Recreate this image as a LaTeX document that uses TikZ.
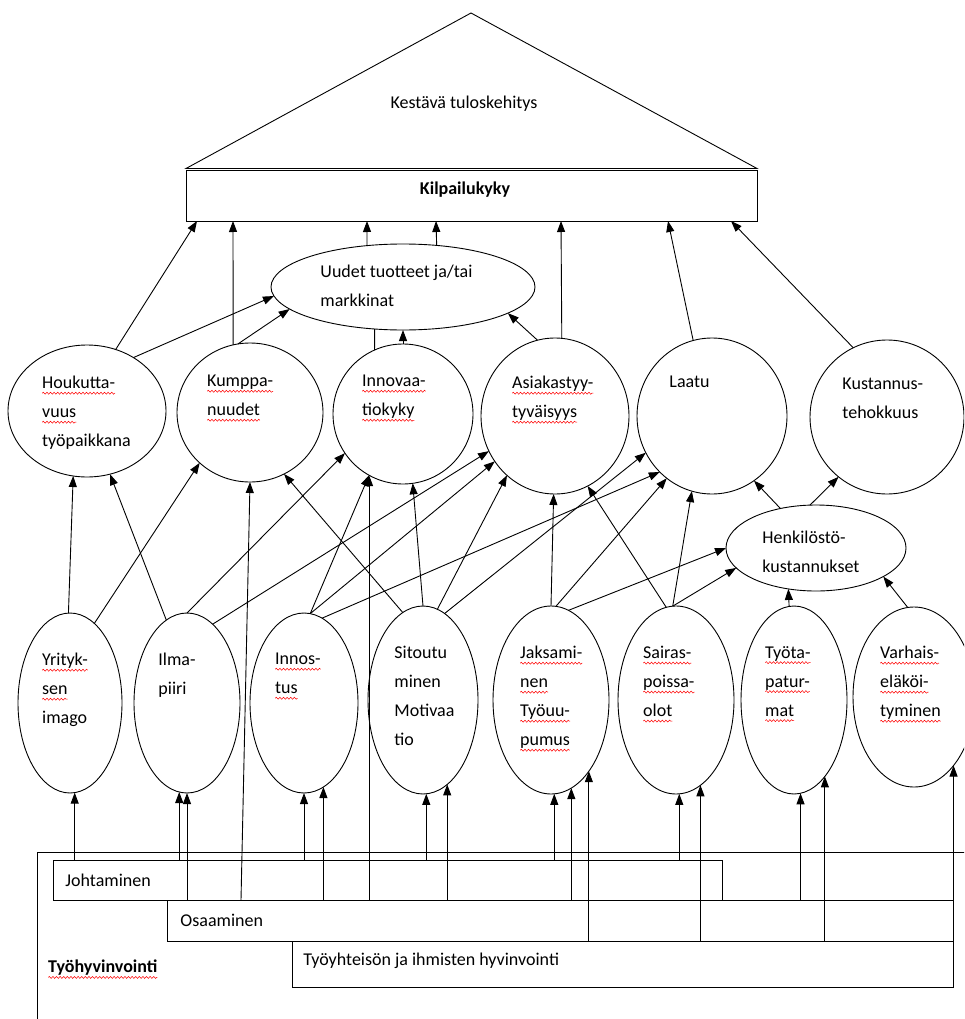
\documentclass[tikz,border=0pt]{standalone}
\usepackage{fontspec}
\setmainfont{Carlito}
\usetikzlibrary{arrows.meta,shapes.geometric,decorations.pathmorphing}
% red wavy underline, as a spell checker marks a word
\newlength\spellwd
\newcommand\spellmark[1]{\settowidth\spellwd{#1}\rlap{\tikz[overlay,baseline=0pt,x=1pt,y=1pt]
  \draw[red,line width=0.5pt,decorate,decoration={snake,amplitude=1pt,segment length=3.6pt}]
  (0pt,-4.5pt) -- (\spellwd,-4.5pt);}#1}
\begin{document}
\begin{tikzpicture}[x=1pt,y=-1pt,line width=0.9pt,
  ell/.style={draw,ellipse,inner sep=0pt,outer sep=0pt,fill=white},
  box/.style={draw,rectangle,inner sep=0pt,outer sep=0pt},
  arr/.style={-{Triangle[length=11pt,width=8pt]}},
  lbl/.style={anchor=north west,inner sep=0pt,align=left,font=\fontsize{18}{29}\selectfont},
  word/.style={anchor=west,inner sep=0pt,font=\fontsize{18}{22}\selectfont}]
\useasboundingbox (0,0) rectangle (964,1019);
\clip (0,0) rectangle (964,1019);

% roof and competitiveness bar
\draw (186,168.5) -- (471,13) -- (757,168.5) -- cycle;
\node[box,minimum width=571,minimum height=51] (kil) at (471.5,195.5) {};
\node[font=\fontsize{18}{22}\selectfont] (kes) at (464,104) {Kestävä tuloskehitys};
\node[font=\bfseries\fontsize{18}{22}\selectfont] (tkil) at (465,190) {Kilpailukyky};

% middle level
\node[ell,minimum width=264,minimum height=86] (uud) at (403,287) {};
\node[ell,minimum width=158,minimum height=132] (hou) at (87,411) {};
\node[ell,minimum width=146,minimum height=139] (kum) at (250,412.5) {};
\node[ell,minimum width=140,minimum height=140] (inn) at (403,414) {};
\node[ell,minimum width=148,minimum height=156] (asi) at (555,416) {};
\node[ell,minimum width=150,minimum height=156] (laa) at (712,416) {};
\node[ell,minimum width=154,minimum height=154] (kus) at (887,417) {};
\node[ell,minimum width=180,minimum height=86] (hen) at (816,548) {};

% lower level
\node[ell,minimum width=104,minimum height=180] (yri) at (70,703) {};
\node[ell,minimum width=106,minimum height=180] (ilm) at (187,703) {};
\node[ell,minimum width=108,minimum height=180] (ist) at (304,703) {};
\node[ell,minimum width=110,minimum height=188] (sit) at (423,700) {};
\node[ell,minimum width=116,minimum height=188] (jak) at (551,700) {};
\node[ell,minimum width=116,minimum height=188] (sai) at (676,700) {};
\node[ell,minimum width=106,minimum height=188] (tyo) at (794,700) {};
\node[ell,minimum width=122,minimum height=180] (var) at (914,697) {};

% texts
\node[lbl] (tuud) at (320,265) {Uudet tuotteet ja/tai\\markkinat};
\node[lbl] (thou) at (42,376) {\spellmark{Houkutta-}\\\spellmark{vuus}\\työpaikkana};
\node[lbl] (tkum) at (207,375) {\spellmark{Kumppa-}\\\spellmark{nuudet}};
\node[lbl] (tinn) at (362,375) {\spellmark{Innovaa-}\\\spellmark{tiokyky}};
\node[lbl] (tasi) at (512,376) {\spellmark{Asiakastyy-}\\\spellmark{tyväisyys}};
\node[lbl] (tlaa) at (669,375) {Laatu};
\node[lbl] (tkus) at (842,377) {Kustannus-\\tehokkuus};
\node[lbl] (then) at (762,531) {Henkilöstö-\\kustannukset};
\node[lbl] (tyri) at (42,653) {\spellmark{Yrityk-}\\\spellmark{sen}\\imago};
\node[lbl] (tilm) at (158,653) {Ilma-\\piiri};
\node[lbl] (tist) at (275,653) {\spellmark{Innos-}\\\spellmark{tus}};
\node[lbl] (tsit) at (394,646) {Sitoutu\\minen\\Motivaa\\tio};
\node[lbl] (tjak) at (520,646) {\spellmark{Jaksami-}\\\spellmark{nen}\\\spellmark{Työuu-}\\\spellmark{pumus}};
\node[lbl] (tsai) at (643,646) {\spellmark{Sairas-}\\\spellmark{poissa-}\\\spellmark{olot}};
\node[lbl] (ttyo) at (765,646) {\spellmark{Työta-}\\\spellmark{patur-}\\\spellmark{mat}};
\node[lbl] (tvar) at (880,646) {\spellmark{Varhais-}\\\spellmark{eläköi-}\\\spellmark{tyminen}};

% foundation boxes
\node[box,anchor=north west,minimum width=1000,minimum height=220] (thv) at (37,852) {};
\node[box,anchor=north west,minimum width=669,minimum height=40] (jo) at (53,860) {};
\node[box,anchor=north west,minimum width=786,minimum height=41] (os) at (167,900) {};
\node[box,anchor=north west,minimum width=661,minimum height=46] (ty) at (292,941) {};
\node[word] (tjo) at (65,880) {Johtaminen};
\node[word] (tos) at (180,920) {Osaaminen};
\node[word] (tty) at (303,961) {Työyhteisön ja ihmisten hyvinvointi};
\node[word,font=\bfseries\fontsize{18}{22}\selectfont] (tthv) at (48,968) {\spellmark{Työhyvinvointi}};

% foundations to lower level
\draw[arr] (jo.north -| yri.-87.4) -- (yri.-87.4);
\draw[arr] (jo.north -| ilm.-95.8) -- (ilm.-95.8);
\draw[arr] (os.north -| ilm.-90) -- (ilm.-90);
\draw[arr] ([xshift=74pt]os.north west) -- (kum.-90);
\draw[arr] (jo.north -| ist.-90) -- (ist.-90);
\draw[arr] (os.north -| ist.-77.3) -- (ist.-77.3);
\draw[arr] (os.north -| inn.-119) -- (inn.-119);
\draw[arr] (jo.north -| sit.-88.2) -- (sit.-88.2);
\draw[arr] (os.north -| sit.-74.9) -- (sit.-74.9);
\draw[arr] (jo.north -| jak.-88.8) -- (jak.-88.8);
\draw[arr] (os.north -| jak.-77.9) -- (jak.-77.9);
\draw[arr] (ty.north -| jak.-62.9) -- (jak.-62.9);
\draw[arr] (jo.north -| sai.-88.8) -- (sai.-88.8);
\draw[arr] (ty.north -| sai.-74.3) -- (sai.-74.3);
\draw[arr] (os.north -| tyo.-86.9) -- (tyo.-86.9);
\draw[arr] (ty.north -| tyo.-68.8) -- (tyo.-68.8);
\draw[arr] (ty.north -| var.-60.6) -- (var.-60.6);

% lower level to middle level
\draw[arr] (yri.91.3) -- (hou.-102.2);
\draw[arr] (yri.73.2) -- (kum.-135.3);
\draw[arr] (ilm.104.4) -- (hou.-70);
\draw[arr] (ilm.90) -- (inn.-146.1);
\draw[arr] (ilm.72.6) -- (asi.-152.8);
\draw[arr] (ist.86.2) -- (inn.-119.2);
\draw[arr] (ist.86.2) -- (asi.-143.7);
\draw[arr] (ist.78.6) -- (laa.-133.6);
\draw[arr] (sit.103.6) -- (kum.-61.9);
\draw[arr] (sit.90.6) -- (inn.-82.3);
\draw[arr] (sit.81.6) -- (asi.-129.2);
\draw[arr] (sit.76.7) -- (laa.-151.9);
\draw[arr] (jak.90.6) -- (asi.-91.4);
\draw[arr] (jak.87) -- (laa.-126.2);
\draw[arr] (jak.79.2) -- (hen.180);
\draw[arr] (sai.96.7) -- (asi.-65.1);
\draw[arr] (sai.92) -- (laa.-105.4);
\draw[arr] (sai.92) -- (hen.-166);
\draw[arr] (tyo.93.7) -- (hen.-124.4);
\draw[arr] (var.94.5) -- (hen.-23.9);
\draw[arr] (hen.132.4) -- (laa.-57.8);
\draw[arr] (hen.98) -- (kus.-129.2);

% middle level to the top
\draw[arr] (hou.65.6) -- ([xshift=11pt]kil.south west);
\draw[arr] (hou.49.4) -- (uud.-176.7);
\draw[arr] (kum.104.9) -- ([xshift=47pt]kil.south west);
\draw[arr] (kum.100.7) -- (uud.-169.2);
\draw (inn.114.5) -- (uud.-124.6);
\draw[arr] (inn.north) -- (uud.south);
\draw[arr] (uud.131) -- ([xshift=181pt]kil.south west);
\draw[arr] (uud.51.6) -- ([xshift=250pt]kil.south west);
\draw[arr] (asi.103.4) -- (uud.-14);
\draw[arr] (asi.85.6) -- ([xshift=375pt]kil.south west);
\draw[arr] (laa.104.9) -- ([xshift=482pt]kil.south west);
\draw[arr] (kus.116.2) -- ([xshift=545pt]kil.south west);
\end{tikzpicture}
\end{document}
